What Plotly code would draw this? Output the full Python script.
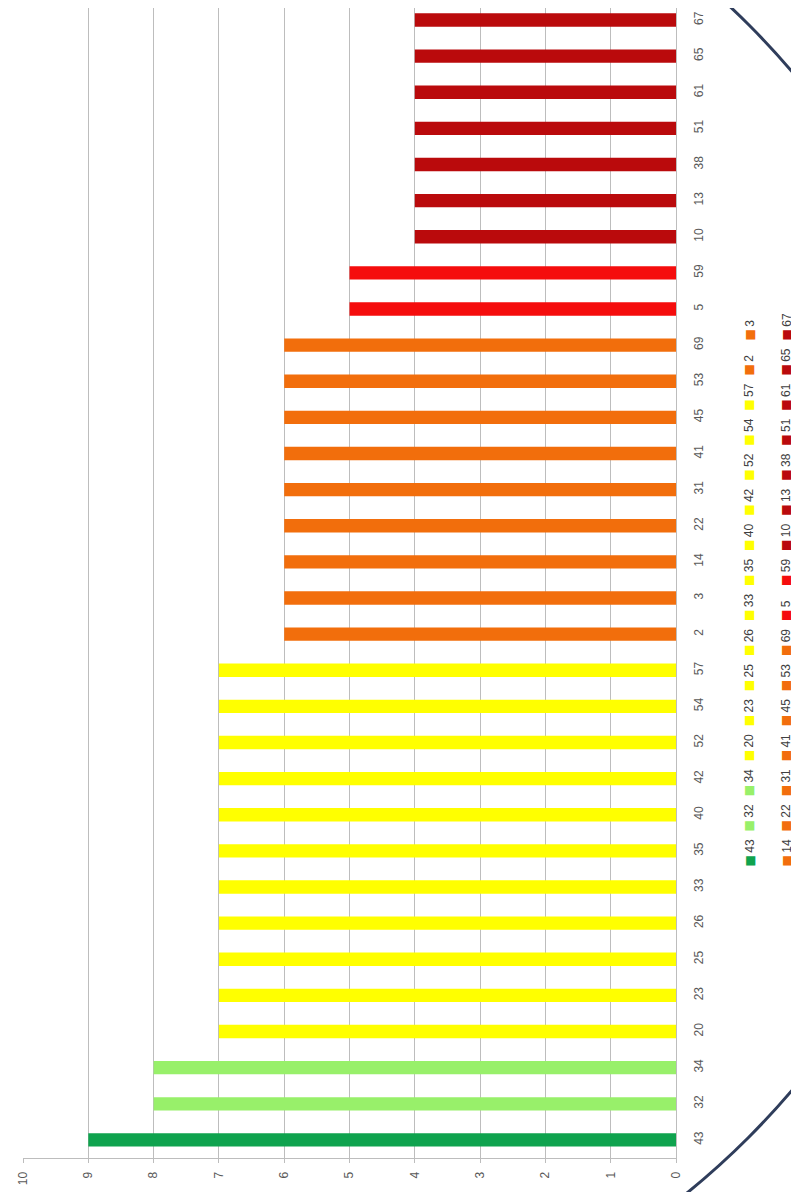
import plotly.graph_objects as go

# ---- data ----
categories = ["43", "32", "34", "20", "23", "25", "26", "33", "35", "40", "42", "52", "54",
              "57", "2", "3", "14", "22", "31", "41", "45", "53", "69", "5", "59",
              "10", "13", "38", "51", "61", "65", "67"]
values = [9, 8, 8, 7, 7, 7, 7, 7, 7, 7, 7, 7, 7,
          7, 6, 6, 6, 6, 6, 6, 6, 6, 6, 5, 5,
          4, 4, 4, 4, 4, 4, 4]
group_colors = {9: "#0FA34E", 8: "#98F06A", 7: "#FFFF00", 6: "#F26E0C", 5: "#F50D0D", 4: "#BA0A0C"}
x_ticks = [0, 1, 2, 3, 4, 5, 6, 7, 8, 9, 10]
legend_row1 = categories[:16]
legend_row2 = categories[16:]

colors = [group_colors[v] for v in values]

# page has an 8px body margin; work in page pixels and convert
OFF = 8
W, H = 799 - OFF, 1192 - OFF
L = 23 - OFF
R = W - (676 - OFF)
T = 0
B = H - (1158 - OFF)
pw, ph = W - L - R, H - T - B


def px_x(px):
    return (px - OFF - L) / pw


def px_y(py):
    return (H - B - (py - OFF)) / ph


# category range: 43 centred at page y 1140, spacing 36.13 px
step = (1140 - 20) / 31
y_top = (1140 - OFF) / step
fig = go.Figure()
fig.add_trace(go.Bar(
    y=categories, x=values, orientation="h",
    marker=dict(color=colors, line=dict(width=0)),
    width=0.37, showlegend=False, hoverinfo="x+y",
))

font = "Liberation Sans Narrow, Liberation Sans, Arial, sans-serif"

fig.update_layout(
    width=W, height=H,
    margin=dict(l=L, r=R, t=T, b=B, autoexpand=False),
    paper_bgcolor="white", plot_bgcolor="white",
    xaxis=dict(
        range=[10, 0], tickvals=x_ticks, ticktext=[str(t) for t in x_ticks],
        tickangle=-90, showgrid=True, gridcolor="#BDBDBD", gridwidth=1,
        zeroline=False, showline=True, linecolor="#BDBDBD",
        ticks="outside", ticklen=4, tickcolor="#BDBDBD",
        tickfont=dict(family=font, size=12, color="#595959"),
        ticklabelstandoff=4, automargin=False,
    ),
    yaxis=dict(
        type="category", categoryorder="array", categoryarray=categories,
        range=[-0.5, y_top],
        side="right", tickangle=-90, showgrid=False, zeroline=False,
        showline=True, linecolor="#BDBDBD", ticks="",
        tickfont=dict(family=font, size=12, color="#595959"),
        ticklabelstandoff=12, automargin=False,
    ),
)

# legend drawn as rotated text entries (two rows, rotated)
leg_step = (863 - 337) / 15
for row, xpx in ((legend_row1, 749), (legend_row2, 786)):
    for i, c in enumerate(row):
        col = colors[categories.index(c)]
        ypx = 863 - i * leg_step + 5
        fig.add_annotation(
            x=px_x(xpx), y=px_y(ypx), xref="paper", yref="paper",
            text=(f"<span style='color:{col};font-family:DejaVu Sans;font-size:12px'>■</span>"
                  f"\u2009{c}"),
            textangle=-90,
            showarrow=False, xanchor="center", yanchor="bottom",
            font=dict(family=font, size=12, color="#404040"), borderpad=0,
        )

# decorative circle arc
cx, cy, rr = 192, 581, 787
fig.add_shape(
    type="circle", xref="paper", yref="paper",
    x0=px_x(cx - rr), x1=px_x(cx + rr), y0=px_y(cy + rr), y1=px_y(cy - rr),
    line=dict(color="#2F3D5B", width=3), layer="above",
)

fig.write_html("out.html")
